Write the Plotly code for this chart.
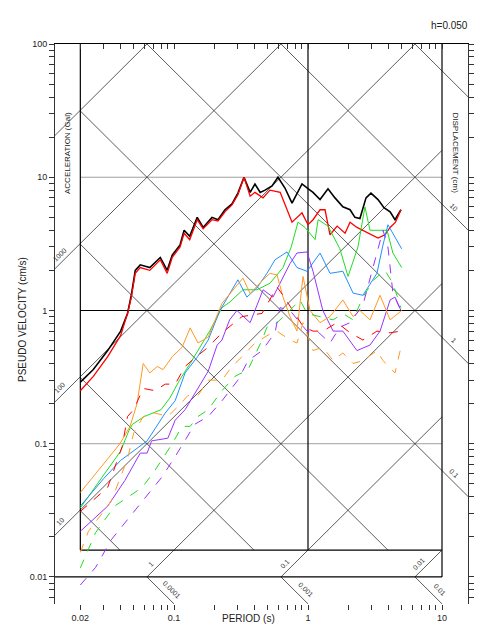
import math
import plotly.graph_objects as go

# spectra (period s, pseudo velocity cm/s)
black_t = [0.02, 0.025, 0.032, 0.04, 0.045, 0.048, 0.0514, 0.056, 0.066, 0.075, 0.079, 0.089, 0.097, 0.111,
           0.119, 0.131, 0.149, 0.165, 0.192, 0.213, 0.24, 0.271, 0.3, 0.333, 0.37, 0.402, 0.44, 0.478, 0.539,
           0.597, 0.673, 0.76, 0.902, 1.0, 1.09, 1.23, 1.41, 1.59, 1.82, 2.06, 2.24, 2.44, 2.71, 2.95, 3.33,
           3.69, 4.1, 4.46, 4.94]
black_v = [0.29, 0.36, 0.5, 0.7, 0.95, 1.3, 2.0, 2.2, 2.1, 2.4, 2.5, 2.0, 2.6, 3.1,
           4.0, 3.6, 5.0, 4.2, 5.0, 4.8, 5.7, 6.3, 7.6, 10.0, 7.7, 8.9, 7.7, 8.0, 8.6,
           10.0, 8.3, 6.4, 8.9, 8.2, 7.7, 6.8, 8.2, 7.0, 6.0, 5.7, 5.0, 4.9, 7.0, 7.6, 6.8,
           5.9, 5.5, 4.8, 5.7]

red_t = [0.02, 0.025, 0.032, 0.04, 0.045, 0.048, 0.0514, 0.056, 0.066, 0.075, 0.079, 0.089, 0.097, 0.111,
         0.119, 0.131, 0.149, 0.165, 0.192, 0.213, 0.24, 0.271, 0.3, 0.333, 0.37, 0.402, 0.462, 0.52, 0.62,
         0.76, 0.902, 1.0, 1.09, 1.23, 1.34, 1.46, 1.65, 1.89, 2.06, 2.32, 2.66, 3.33, 3.75, 4.1, 4.5, 4.94]
red_v = [0.25, 0.32, 0.45, 0.65, 0.95, 1.25, 1.9, 2.1, 2.0, 2.3, 2.4, 1.9, 2.5, 3.0,
         3.8, 3.4, 4.8, 4.1, 4.8, 4.7, 5.5, 6.2, 7.4, 10.0, 7.2, 7.7, 7.0, 8.0, 7.7,
         4.6, 5.4, 4.4, 4.8, 5.7, 5.7, 3.7, 4.3, 3.8, 4.6, 4.2, 3.9, 3.5, 3.7, 4.2, 4.6, 5.7]

green_t = [0.02, 0.03, 0.04, 0.046, 0.049, 0.06, 0.07, 0.08, 0.093, 0.11, 0.132, 0.16, 0.186, 0.228, 0.262,
           0.327, 0.416, 0.52, 0.651, 0.75, 0.842, 0.95, 1.035, 1.13, 1.19, 1.41, 1.73, 1.99, 2.36, 2.66,
           2.9, 3.89, 4.3, 5.0]
green_v = [0.033, 0.058, 0.088, 0.125, 0.14, 0.16, 0.17, 0.18, 0.22, 0.3, 0.4, 0.55, 0.71, 1.05, 1.16,
           1.43, 1.43, 1.6, 2.1, 3.0, 4.6, 4.2, 3.8, 3.4, 4.8, 4.3, 2.9, 1.8, 3.0, 6.0,
           4.0, 4.0, 2.7, 2.1]

blue_t = [0.02, 0.03, 0.04, 0.0513, 0.063, 0.086, 0.102, 0.121, 0.15, 0.18, 0.22, 0.3, 0.35, 0.416, 0.494,
          0.567, 0.697, 0.827, 0.983, 1.23, 1.46, 1.82, 2.17, 2.57, 3.27, 3.6, 3.95, 5.0]
blue_v = [0.034, 0.055, 0.075, 0.09, 0.105, 0.17, 0.21, 0.34, 0.45, 0.6, 1.0, 1.7, 1.26, 1.48, 1.9,
          2.4, 2.75, 2.1, 1.97, 2.7, 1.9, 1.97, 1.35, 1.3, 1.9, 3.0, 4.4, 2.9]

purple_t = [0.02, 0.032, 0.043, 0.056, 0.063, 0.068, 0.09, 0.102, 0.121, 0.143, 0.18, 0.21, 0.228, 0.26,
            0.295, 0.37, 0.462, 0.548, 0.618, 0.734, 0.827, 0.983, 1.09, 1.29, 1.54, 1.82, 2.32, 2.9,
            3.45, 4.1, 4.46, 4.94]
purple_v = [0.022, 0.034, 0.053, 0.085, 0.085, 0.105, 0.11, 0.15, 0.18, 0.24, 0.35, 0.55, 0.6, 0.85,
            1.0, 0.81, 1.43, 1.26, 1.6, 2.25, 2.7, 2.75, 1.97, 1.0, 0.7, 0.7, 0.5, 0.55,
            0.7, 1.2, 1.26, 1.0]

orange_t = [0.02, 0.03, 0.0395, 0.047, 0.053, 0.0589, 0.066, 0.075, 0.083, 0.097, 0.115, 0.132, 0.151,
            0.18, 0.228, 0.327, 0.37, 0.462, 0.52, 0.587, 0.651, 0.734, 0.827, 0.918, 1.035, 1.23, 1.46,
            1.82, 2.17, 2.44, 2.9, 3.45, 4.1, 5.0]
orange_v = [0.043, 0.071, 0.1, 0.135, 0.2, 0.4, 0.34, 0.38, 0.36, 0.45, 0.53, 0.74, 0.57,
            0.63, 1.13, 1.75, 1.34, 1.7, 1.9, 1.85, 1.26, 0.9, 0.7, 1.8, 1.0, 0.81, 0.9,
            1.2, 0.9, 1.0, 0.85, 1.3, 0.85, 1.0]

red_d_t = [0.02, 0.032, 0.041, 0.045, 0.05, 0.0589, 0.072, 0.086, 0.102, 0.121, 0.143, 0.18, 0.228, 0.322,
           0.454, 0.587, 0.651, 0.773, 0.918, 1.09, 1.29, 1.65, 2.06, 2.57, 3.27, 4.1, 4.94]
red_d_v = [0.031, 0.047, 0.095, 0.16, 0.18, 0.26, 0.25, 0.28, 0.28, 0.38, 0.44, 0.53, 0.68, 0.9,
           0.95, 1.5, 1.3, 1.0, 0.76, 0.7, 0.7, 0.81, 0.68, 0.6, 0.7, 0.68, 0.7]

green_d_t = [0.02, 0.026, 0.036, 0.058, 0.072, 0.097, 0.115, 0.132, 0.151, 0.18, 0.228, 0.285, 0.357,
             0.454, 0.494, 0.587, 0.697, 0.871, 0.983, 1.23, 1.54, 1.82, 2.17, 2.57, 3.1, 3.75, 4.3, 4.94]
green_d_v = [0.0117, 0.0215, 0.034, 0.047, 0.063, 0.1, 0.135, 0.135, 0.16, 0.18, 0.25, 0.32, 0.36,
             0.6, 0.75, 0.81, 0.95, 1.2, 0.95, 0.9, 0.85, 0.95, 0.85, 1.26, 1.7, 2.0, 1.6, 1.05]

orange_d_t = [0.02, 0.023, 0.034, 0.045, 0.05, 0.0589, 0.072, 0.09, 0.107, 0.127, 0.151, 0.18, 0.228,
              0.271, 0.322, 0.402, 0.539, 0.587, 0.734, 0.827, 0.918, 1.09, 1.29, 1.54, 1.82, 2.17,
              2.57, 3.27, 3.63, 4.46, 4.94]
orange_d_v = [0.0153, 0.022, 0.037, 0.077, 0.12, 0.16, 0.17, 0.16, 0.19, 0.23, 0.23, 0.3, 0.3,
              0.38, 0.45, 0.57, 0.68, 0.7, 0.6, 0.57, 0.81, 0.5, 0.53, 0.42, 0.48, 0.4,
              0.42, 0.5, 0.42, 0.34, 0.53]

purple_d_t = [0.02, 0.026, 0.034, 0.0606, 0.081, 0.102, 0.121, 0.143, 0.18, 0.228, 0.3, 0.357, 0.454,
              0.567, 0.618, 0.734, 0.871, 0.983, 1.17, 1.46, 1.73, 2.06, 2.57, 3.05, 3.63, 3.95, 4.3, 4.94]
purple_d_v = [0.0087, 0.0118, 0.019, 0.039, 0.056, 0.08, 0.105, 0.14, 0.16, 0.21, 0.3, 0.42, 0.5,
              0.68, 1.05, 1.0, 0.81, 0.7, 0.7, 0.57, 0.75, 0.81, 1.1, 2.1, 4.0, 3.0, 1.35, 1.0]

accel_vals = [0.01, 0.1, 1, 10, 100, 1000, 10000]
disp_vals = [0.0001, 0.001, 0.01, 0.1, 1, 10, 100, 1000]

series = [
    (black_t, black_v, "black", "solid", 1.6),
    (red_t, red_v, "#ff0000", "solid", 1.3),
    (green_t, green_v, "#22dd22", "solid", 1.0),
    (blue_t, blue_v, "#1e90ff", "solid", 1.0),
    (purple_t, purple_v, "#9933ff", "solid", 1.0),
    (orange_t, orange_v, "#ff9922", "solid", 1.0),
    (red_d_t, red_d_v, "#ff0000", "dash", 1.0),
    (green_d_t, green_d_v, "#22dd22", "dash", 1.0),
    (orange_d_t, orange_d_v, "#ff9922", "dash", 1.0),
    (purple_d_t, purple_d_v, "#9933ff", "dash", 1.0),
]

XMIN, XMAX = -1.888, 1.194      # log10 period range of frame
YMIN, YMAX = -2.203, 2.0        # log10 velocity range of frame
L2PI = math.log10(2 * math.pi)
YBOX = math.log10(0.1 / (2 * math.pi))

# page has an 8px body margin; frame wanted at page x 55..468, y 44..604
OFF = 8
PL, PT, PW, PH = 55, 44, 413, 560


def clip_line(slope, icpt, x0, x1, y0, y1):
    # segment of y = slope*x + icpt inside box, in log units
    xs = sorted([x0, x1, (y0 - icpt) / slope, (y1 - icpt) / slope])
    pts = []
    for x in xs:
        y = slope * x + icpt
        if x0 - 1e-9 <= x <= x1 + 1e-9 and y0 - 1e-9 <= y <= y1 + 1e-9:
            pts.append((x, y))
    if len(pts) < 2:
        return None
    return pts[0], pts[-1]


diag_x, diag_y = [], []
def add_seg(seg):
    if seg:
        for p in seg:
            diag_x.append(10 ** p[0])
            diag_y.append(10 ** p[1])
        diag_x.append(None)
        diag_y.append(None)

for a in accel_vals:
    add_seg(clip_line(1, math.log10(a) - L2PI, XMIN, 1, -2, 2))
for d in disp_vals:
    add_seg(clip_line(-1, math.log10(d) + L2PI, math.log10(0.02), XMAX, YBOX, 2))
for d in [0.0001, 0.001, 0.01]:
    add_seg(clip_line(-1, math.log10(d) + L2PI, XMIN, XMAX, YMIN, -2))

fig = go.Figure()

# grid
fig.add_trace(go.Scatter(x=[0.02, 10, None, 0.02, 10], y=[10, 10, None, 0.1, 0.1], mode="lines",
                         line=dict(color="#888888", width=0.8), hoverinfo="skip"))
fig.add_trace(go.Scatter(x=diag_x, y=diag_y, mode="lines", line=dict(color="#333333", width=0.8),
                         hoverinfo="skip"))
vb = 10 ** YBOX
fig.add_trace(go.Scatter(
    x=[0.02, 10, None, 1, 1, None, 0.02, 0.02, None, 10, 10, None, 0.02, 10, None, 10 ** XMIN, 10],
    y=[1, 1, None, vb, 100, None, vb, 100, None, 0.01, 100, None, vb, vb, None, 0.01, 0.01],
    mode="lines", line=dict(color="black", width=1.2), hoverinfo="skip"))

for t, v, c, dash, w in series:
    fig.add_trace(go.Scatter(x=t, y=v, mode="lines", line=dict(color=c, dash=dash, width=w)))

fig.add_trace(go.Scatter(x=[0.1], y=[1], xaxis="x2", mode="markers", marker=dict(opacity=0),
                         hoverinfo="skip"))

small = dict(family="Liberation Sans, Arial", size=7, color="#333333")
ann = []
for a, lt in [(1000, -1.836), (100, -1.836), (10, -1.836), (1, -1.16), (0.1, -0.155), (0.01, 0.845)]:
    ann.append(dict(x=lt, y=lt + math.log10(a) - L2PI, text=str(a), textangle=-45, yshift=7, xshift=-2,
                    showarrow=False, font=small))
for d in [10, 1, 0.1]:
    lt = 1.075
    ann.append(dict(x=lt, y=-lt + math.log10(d) + L2PI, text=str(d), textangle=45, yshift=7, xshift=2,
                    showarrow=False, font=small))
for d, lt in [("0.0001", -1.07), ("0.001", -0.07), ("0.01", 0.93)]:
    ann.append(dict(x=lt, y=-lt + math.log10(float(d)) + L2PI, text=d, textangle=45, yshift=5, xshift=7,
                    showarrow=False, font=small))
for a in ann:
    a["xref"], a["yref"] = "x", "y"

lab = dict(family="Liberation Sans, Arial", size=8, color="#222222")
big = dict(family="Liberation Sans, Arial", size=10, color="#222222")
texts = [
    (67, 110, "ACCELERATION (Gal)", -90, lab, "center"),
    (455, 110, "DISPLACEMENT (cm)", 90, lab, "center"),
    (470, 18, "h=0.050", 0, big, "right"),
    (248, 626, "PERIOD (s)", 0, big, "center"),
    (22, 320, "PSEUDO VELOCITY (cm/s)", -90, big, "center"),
]
for px_, py_, txt, ang, f, xa in texts:
    ann.append(dict(x=(px_ - PL) / PW, y=1 - (py_ - PT) / PH, xref="paper", yref="paper", text=txt,
                    textangle=ang, showarrow=False, font=f, xanchor=xa))

xt = [k * 10 ** e for e in (-2, -1, 0) for k in range(1, 10)] + [10]
xt = [v for v in xt if v >= 0.02]
xtext = [{0.02: "0.02", 0.1: "0.1", 1: "1", 10: "10"}.get(round(v, 4), "") for v in xt]
yt = [k * 10 ** e for e in (-3, -2, -1, 0, 1) for k in range(1, 10)] + [100]

W, H = 484 - OFF, 635 - OFF
fig.update_layout(
    width=W, height=H,
    margin=dict(l=PL - OFF, r=W - (PL - OFF) - PW, t=PT - OFF, b=H - (PT - OFF) - PH),
    paper_bgcolor="white", plot_bgcolor="white", showlegend=False,
    font=dict(family="Liberation Sans, Arial", size=9, color="#222222"),
    xaxis=dict(type="log", range=[XMIN, XMAX], showgrid=False, zeroline=False, showline=False,
               automargin=False,
               tickvals=xt, ticktext=xtext, ticks="outside", ticklen=5, tickcolor="#333333"),
    xaxis2=dict(type="log", range=[XMIN, XMAX], overlaying="x", side="top", showgrid=False,
                automargin=False,
                showline=True, linecolor="black", linewidth=1.2, tickvals=xt, ticks="inside", ticklen=5,
                showticklabels=False, tickcolor="#333333"),
    yaxis=dict(type="log", range=[YMIN, YMAX], showgrid=False, zeroline=False, showline=True,
               automargin=False,
               mirror="ticks", linecolor="#333333", linewidth=1, tickvals=yt,
               ticktext=[{0.01: "0.01", 0.1: "0.1", 1: "1", 10: "10", 100: "100"}.get(round(v, 4), "")
                         for v in yt],
               ticks="outside", ticklen=5, tickcolor="#333333"),
    annotations=ann,
)

fig.write_html("out.html")
